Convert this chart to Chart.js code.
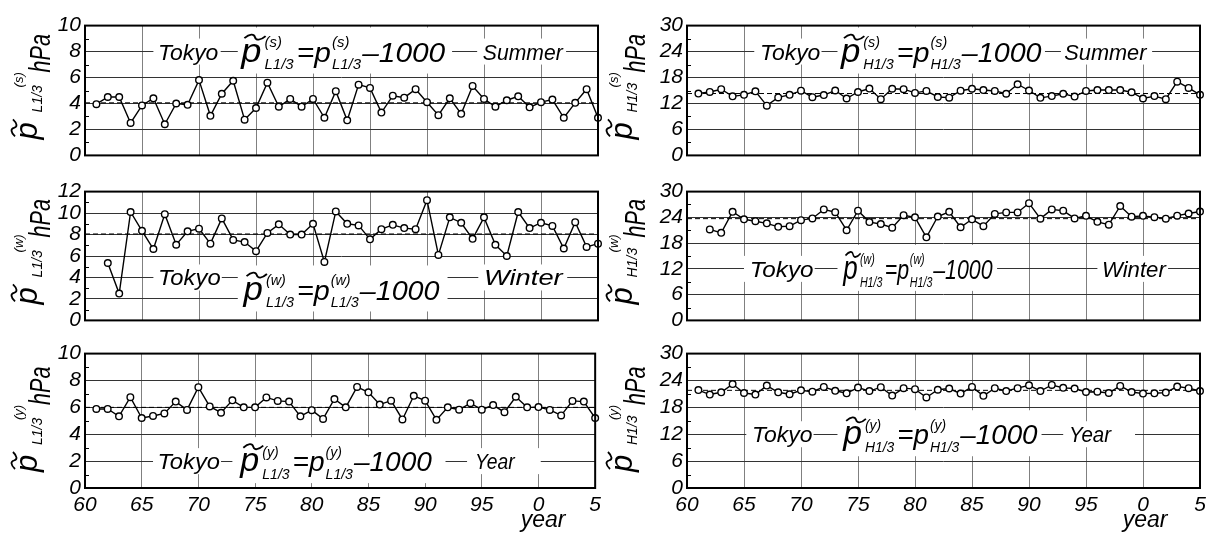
<!DOCTYPE html>
<html>
<head>
<meta charset="utf-8">
<script src="https://cdn.jsdelivr.net/npm/chart.js@4.4.0/dist/chart.umd.min.js"></script>
<style>
  html, body { margin: 0; padding: 0; background: #fff; }
  #wrap { position: relative; width: 1214px; height: 534px; overflow: hidden; }
  #wrap canvas { position: absolute; }
</style>
</head>
<body>
<div id="wrap"></div>
<script>
// Years (60 = 1960, 100 = 2000, 105 = 2005)
const years61 = [61, 62, 63, 64, 65, 66, 67, 68, 69, 70, 71, 72, 73, 74, 75, 76, 77, 78, 79, 80,
                 81, 82, 83, 84, 85, 86, 87, 88, 89, 90, 91, 92, 93, 94, 95, 96, 97, 98, 99, 100,
                 101, 102, 103, 104, 105];
const years62 = years61.slice(1);   // winter series start one year later

// Tick labels of the year axis
const xTickValues = [60, 65, 70, 75, 80, 85, 90, 95, 100, 105];
const xTickLabels = ['60', '65', '70', '75', '80', '85', '90', '95', '0', '5'];

// L1/3 (hPa above 1000)
const summerL = [3.95, 4.5, 4.5, 2.5, 3.85, 4.4, 2.4, 4.0, 3.9, 5.8, 3.05, 4.75, 5.75, 2.75, 3.65,
                 5.6, 3.75, 4.35, 3.75, 4.35, 2.9, 4.95, 2.7, 5.45, 5.2, 3.3, 4.6, 4.45, 5.1, 4.1,
                 3.1, 4.4, 3.2, 5.35, 4.35, 3.75, 4.25, 4.55, 3.7, 4.1, 4.3, 2.9, 4.05, 5.1, 2.9];
const winterL = [5.35, 2.5, 10.1, 8.35, 6.65, 9.9, 7.05, 8.3, 8.55, 7.15, 9.5, 7.5, 7.3, 6.45, 8.15,
                 8.95, 8.0, 8.0, 9.0, 5.45, 10.15, 9.0, 8.85, 7.55, 8.5, 8.9, 8.6, 8.5, 11.2, 6.1,
                 9.6, 9.1, 7.6, 9.6, 7.05, 6.0, 10.1, 8.6, 9.1, 8.8, 6.7, 9.15, 6.85, 7.15];
const yearL = [5.88, 5.88, 5.33, 6.76, 5.21, 5.36, 5.55, 6.43, 5.81, 7.5, 6.07, 5.6, 6.52, 6.0, 6.0,
               6.74, 6.48, 6.43, 5.33, 5.79, 5.14, 6.62, 6.0, 7.52, 7.12, 6.21, 6.5, 5.1, 6.86, 6.5,
               5.07, 6.0, 5.83, 6.31, 5.83, 6.17, 5.64, 6.79, 6.0, 6.02, 5.81, 5.4, 6.48, 6.43, 5.21];

// H1/3 (hPa above 1000)
const summerH = [14.3, 14.66, 15.3, 13.65, 14.0, 14.8, 11.5, 13.4, 14.0, 14.95, 13.45, 13.95, 15.0, 13.15, 14.65,
                 15.45, 13.0, 15.4, 15.3, 14.45, 14.9, 13.5, 13.35, 14.95, 15.4, 15.1, 14.9, 14.25, 16.45, 15.0,
                 13.3, 13.7, 14.25, 13.6, 14.9, 15.1, 15.1, 15.1, 14.6, 13.15, 13.7, 13.0, 17.05, 15.6, 14.0];
const winterH = [21.2, 20.4, 25.3, 23.55, 23.1, 22.6, 21.8, 21.95, 23.35, 23.75, 25.85, 25.2, 21.0, 25.55, 22.9,
                 22.45, 21.6, 24.5, 24.0, 19.35, 24.2, 25.3, 21.7, 23.55, 21.95, 24.8, 25.15, 25.15, 27.3, 23.7,
                 25.85, 25.55, 23.75, 24.35, 22.95, 22.3, 26.65, 24.15, 24.35, 24.05, 23.7, 24.4, 24.9, 25.35];
const yearH = [21.86, 20.86, 21.36, 23.2, 21.2, 20.86, 22.86, 21.36, 20.93, 21.8, 21.5, 22.57, 21.7, 21.14, 22.43,
               21.64, 22.5, 20.64, 22.29, 22.07, 20.21, 21.93, 22.21, 21.07, 22.57, 20.57, 22.29, 21.64, 22.29, 22.93,
               21.64, 23.0, 22.36, 22.21, 21.43, 21.5, 21.21, 22.79, 21.43, 21.07, 21.14, 21.29, 22.64, 22.29, 21.64];

// Long term means (dashed lines)
const meanSummerL = 4.05, meanWinterL = 8.05, meanYearL = 6.0;
const meanSummerH = 14.3, meanWinterH = 23.7, meanYearH = 21.8;

const FONT = '"Liberation Sans", Arial, Helvetica, sans-serif';

// layout of the six panels
const colLeft = [0, 602];
const colWidth = [606, 612];
const rowTop = [21, 187, 349];
const rowHeight = [139, 138, 139];
const Y_AXIS_W = 85;
const PAD_T = 12;

const panels = [
  { col: 0, row: 0, years: years61, values: summerL, mean: meanSummerL, ymax: 10, step: 2, tag: 's', sub: 'L1/3', season: 'Summer',
    lineVal: 8, fOff: 0, tokyo: [66.4, 71.7], tokyoBox: [66.0, 71.9], formula: [73.7, 91.6], formulaBox: [73.4, 92.2], seasonTxt: [94.9, 101.9], seasonBox: [94.4, 102.2] },
  { col: 0, row: 1, years: years62, values: winterL, mean: meanWinterL, ymax: 12, step: 2, tag: 'w', sub: 'L1/3', season: 'Winter',
    lineVal: 4, fOff: 12, tokyo: [66.4, 71.9], tokyoBox: [66.0, 72.0], formula: [73.9, 91.1], formulaBox: [73.4, 91.8], seasonTxt: [95.0, 101.9], seasonBox: [94.5, 102.3] },
  { col: 0, row: 2, years: years61, values: yearL, mean: meanYearL, ymax: 10, step: 2, tag: 'y', sub: 'L1/3', season: 'Year',
    lineVal: 2, fOff: 0, tokyo: [66.4, 71.9], tokyoBox: [66.0, 72.0], formula: [73.7, 90.6], formulaBox: [73.0, 91.8], seasonTxt: [94.4, 97.9], seasonBox: [93.7, 100.2] },
  { col: 1, row: 0, years: years61, values: summerH, mean: meanSummerH, ymax: 30, step: 6, tag: 's', sub: 'H1/3', season: 'Summer',
    lineVal: 24, fOff: 0, tokyo: [66.4, 71.7], tokyoBox: [65.9, 71.8], formula: [73.5, 91.1], formulaBox: [73.2, 91.4], seasonTxt: [93.1, 100.3], seasonBox: [92.8, 100.8] },
  { col: 1, row: 1, years: years62, values: winterH, mean: meanWinterH, ymax: 30, step: 6, tag: 'w', sub: 'H1/3', season: 'Winter',
    lineVal: 12, fOff: 0, tokyo: [65.5, 71.1], tokyoBox: [65.0, 71.2], formula: [73.7, 86.8], formulaBox: [73.2, 87.2], seasonTxt: [96.4, 102.0], seasonBox: [96.0, 102.2] },
  { col: 1, row: 2, years: years61, values: yearH, mean: meanYearH, ymax: 30, step: 6, tag: 'y', sub: 'H1/3', season: 'Year',
    lineVal: 12, fOff: 0, tokyo: [65.7, 71.0], tokyoBox: [65.2, 71.1], formula: [73.7, 90.75], formulaBox: [73.2, 91.1], seasonTxt: [93.5, 97.2], seasonBox: [93.0, 99.3] }
];

// text squeezed horizontally to fill [x0, x1]
function fitText(ctx, txt, x0, x1, yBase, size) {
  ctx.font = `italic ${size}px ${FONT}`;
  const w = ctx.measureText(txt).width;
  ctx.save();
  ctx.translate(x0, yBase);
  ctx.scale((x1 - x0) / w, 1);
  ctx.fillText(txt, 0, 0);
  ctx.restore();
}

function drawTilde(ctx, x0, x1, y, amp) {
  const w = x1 - x0;
  ctx.beginPath();
  ctx.moveTo(x0, y + amp * 0.3);
  ctx.bezierCurveTo(x0 + w * 0.25, y - amp, x0 + w * 0.45, y - amp, x0 + w * 0.5, y);
  ctx.bezierCurveTo(x0 + w * 0.55, y + amp, x0 + w * 0.75, y + amp, x1, y - amp * 0.3);
  ctx.stroke();
}

// p~ (tag) sub = p (tag) sub - 1000
function drawFormula(ctx, x0, x1, yc, tag, sub) {
  const big = 34, mid = 28, sm = 14;
  const base = yc + mid * 0.36;
  ctx.font = `italic ${big}px ${FONT}`;
  const wp = ctx.measureText('p').width;
  ctx.font = `italic ${sm}px ${FONT}`;
  const wScript = Math.max(ctx.measureText('(' + tag + ')').width, ctx.measureText(sub).width);
  ctx.font = `italic ${mid}px ${FONT}`;
  const weq = ctx.measureText('=p').width;
  const wk = ctx.measureText('\u20131000').width;
  const total = wp + 3 + wScript + 3 + weq + 1 + wScript + 1 + wk;
  ctx.save();
  ctx.translate(x0, base);
  ctx.scale((x1 - x0) / total, 1);
  let x = 0;
  ctx.font = `italic ${big}px ${FONT}`;
  ctx.fillText('p', x, 0);
  ctx.lineWidth = 1.8;
  drawTilde(ctx, x + 3, x + wp + 4, -big * 0.72, 3.5);
  x += wp + 3;
  ctx.font = `italic ${sm}px ${FONT}`;
  ctx.fillText('(' + tag + ')', x, -mid * 0.52);
  ctx.fillText(sub, x, sm * 0.55);
  x += wScript + 3;
  ctx.font = `italic ${mid}px ${FONT}`;
  ctx.fillText('=p', x, 0);
  x += weq + 1;
  ctx.font = `italic ${sm}px ${FONT}`;
  ctx.fillText('(' + tag + ')', x, -mid * 0.52);
  ctx.fillText(sub, x, sm * 0.55);
  x += wScript + 1;
  ctx.font = `italic ${mid}px ${FONT}`;
  ctx.fillText('\u20131000', x, 0);
  ctx.restore();
}

// rotated axis title: p~ sub (tag) hPa
function drawYTitle(ctx, xb, yb, tag, sub) {
  ctx.save();
  ctx.translate(xb, yb);
  ctx.rotate(-Math.PI / 2);
  ctx.fillStyle = '#000';
  ctx.strokeStyle = '#000';
  ctx.textAlign = 'left';
  ctx.textBaseline = 'alphabetic';
  ctx.font = `italic 31px ${FONT}`;
  ctx.fillText('p', 0, 0);
  ctx.lineWidth = 1.8;
  drawTilde(ctx, 3, 20, -23, 3.5);
  ctx.font = `italic 14px ${FONT}`;
  ctx.fillText(sub, 27, 5);
  ctx.font = `italic 13px ${FONT}`;
  ctx.fillText('(' + tag + ')', 52, -14);
  ctx.save();
  ctx.translate(67, 13);
  ctx.scale(0.72, 1);
  ctx.font = `italic 30px ${FONT}`;
  ctx.fillText('hPa', 0, 0);
  ctx.restore();
  ctx.restore();
}

const panelPlugin = {
  id: 'panelDeco',
  beforeDatasetsDraw(chart) {
    const p = chart.options.plugins.panelDeco.panel;
    const { ctx, chartArea: a, scales: { x, y } } = chart;
    ctx.save();
    // small inner ticks between the labelled ones
    ctx.strokeStyle = '#000';
    ctx.lineWidth = 1;
    for (let v = p.step / 2; v < p.ymax; v += p.step) {
      const py = Math.round(y.getPixelForValue(v)) + 0.5;
      ctx.beginPath();
      ctx.moveTo(a.left, py);
      ctx.lineTo(a.left + 4, py);
      ctx.stroke();
    }
    const yc = y.getPixelForValue(p.lineVal);
    const yf = yc + p.fOff;
    ctx.fillStyle = '#fff';
    const box = (r, top, bot) => {
      const l = x.getPixelForValue(r[0]), rr = x.getPixelForValue(r[1]);
      ctx.fillRect(l, top, rr - l, bot - top);
    };
    box(p.tokyoBox, yc - 13, yc + 13);
    box(p.seasonBox, yc - 13, yc + 13);
    box(p.formulaBox, yf - 24, yf + 22);
    ctx.fillStyle = '#000';
    ctx.strokeStyle = '#000';
    ctx.textAlign = 'left';
    ctx.textBaseline = 'alphabetic';
    fitText(ctx, 'Tokyo', x.getPixelForValue(p.tokyo[0]), x.getPixelForValue(p.tokyo[1]), yc + 8, 22);
    fitText(ctx, p.season, x.getPixelForValue(p.seasonTxt[0]), x.getPixelForValue(p.seasonTxt[1]), yc + 8, 22);
    drawFormula(ctx, x.getPixelForValue(p.formula[0]), x.getPixelForValue(p.formula[1]), yf, p.tag, p.sub);
    ctx.restore();
  },
  afterDatasetsDraw(chart) {
    const { ctx, chartArea: a } = chart;
    ctx.save();
    ctx.strokeStyle = '#000';
    ctx.lineWidth = 2;
    ctx.strokeRect(a.left, a.top, a.right - a.left, a.bottom - a.top);
    ctx.restore();
  },
  afterDraw(chart) {
    const p = chart.options.plugins.panelDeco.panel;
    const { ctx, chartArea: a } = chart;
    drawYTitle(ctx, p.col === 0 ? 37 : 30, a.bottom - 16, p.tag, p.sub);
    if (p.row === 2) {
      ctx.save();
      ctx.fillStyle = '#000';
      ctx.textAlign = 'center';
      ctx.textBaseline = 'alphabetic';
      ctx.font = `italic 23px ${FONT}`;
      ctx.fillText('year', a.left + 458, a.bottom + 39);
      ctx.restore();
    }
  }
};

const wrap = document.getElementById('wrap');

panels.forEach(p => {
  const isBottom = p.row === 2;
  const w = colWidth[p.col];
  const h = PAD_T + rowHeight[p.row] + (isBottom ? 48 : 12);
  const canvas = document.createElement('canvas');
  canvas.width = w;
  canvas.height = h;
  canvas.style.width = w + 'px';
  canvas.style.height = h + 'px';
  canvas.style.left = colLeft[p.col] + 'px';
  canvas.style.top = (rowTop[p.row] - PAD_T) + 'px';
  wrap.appendChild(canvas);

  const points = p.years.map((yr, i) => ({ x: yr, y: p.values[i] }));

  new Chart(canvas, {
    type: 'line',
    data: {
      datasets: [
        {
          data: points,
          borderColor: '#000',
          borderWidth: 1.4,
          pointRadius: 3.3,
          pointBackgroundColor: '#fff',
          pointBorderColor: '#000',
          pointBorderWidth: 1.4,
          tension: 0,
          clip: false
        },
        {
          data: [{ x: 60, y: p.mean }, { x: 105, y: p.mean }],
          borderColor: '#000',
          borderWidth: 1,
          borderDash: [5, 3],
          pointRadius: 0
        }
      ]
    },
    options: {
      responsive: false,
      animation: false,
      events: [],
      layout: { padding: { top: PAD_T, right: w - 598, bottom: isBottom ? 0 : 12, left: 0 } },
      plugins: {
        legend: { display: false },
        tooltip: { enabled: false },
        panelDeco: { panel: p }
      },
      scales: {
        x: {
          type: 'linear',
          min: 60,
          max: 105,
          afterBuildTicks: s => { s.ticks = xTickValues.map(v => ({ value: v })); },
          afterFit: s => { s.height = isBottom ? 48 : 0; },
          ticks: {
            display: isBottom,
            autoSkip: false,
            maxRotation: 0,
            padding: 5,
            color: '#000',
            font: { family: FONT, size: 21, style: 'italic' },
            callback: v => xTickLabels[xTickValues.indexOf(v)]
          },
          grid: { color: '#808080', lineWidth: 1, drawTicks: false },
          border: { display: false }
        },
        y: {
          min: 0,
          max: p.ymax,
          afterFit: s => { s.width = Y_AXIS_W; },
          ticks: {
            stepSize: p.step,
            autoSkip: false,
            padding: 4,
            color: '#000',
            font: { family: FONT, size: 21, style: 'italic' }
          },
          grid: { color: '#333', lineWidth: 1, drawTicks: false },
          border: { display: false }
        }
      }
    },
    plugins: [panelPlugin]
  });
});
</script>
</body>
</html>
